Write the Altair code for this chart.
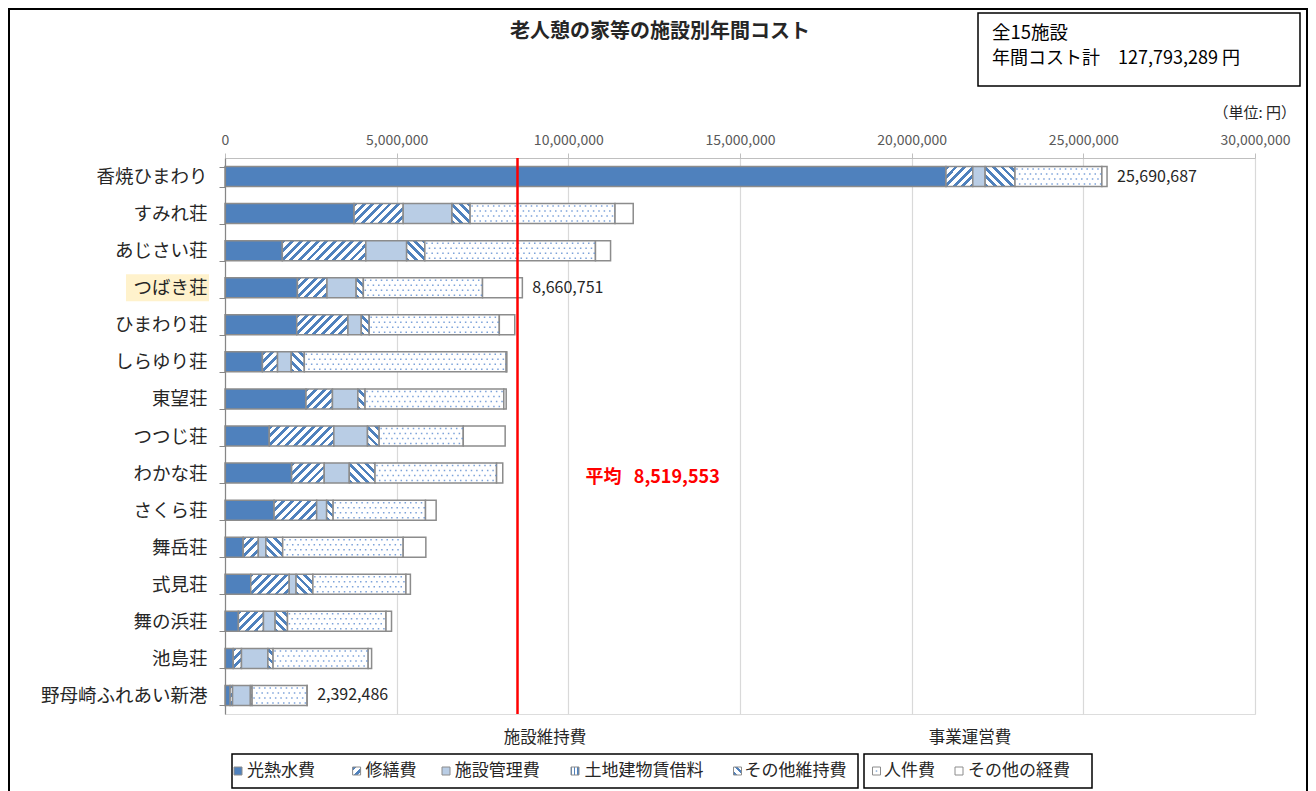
import altair as alt

# ---------------- data ----------------
categories = ["香焼ひまわり", "すみれ荘", "あじさい荘", "つばき荘", "ひまわり荘", "しらゆり荘",
              "東望荘", "つつじ荘", "わかな荘", "さくら荘", "舞岳荘", "式見荘", "舞の浜荘",
              "池島荘", "野母崎ふれあい新港"]
cost_types = ["光熱水費", "修繕費", "施設管理費", "土地建物賃借料", "その他維持費", "人件費", "その他の経費"]
group_names = ["施設維持費", "事業運営費"]

utilities = [21000000, 3760000, 1670000, 2110000, 2090000, 1090000, 2360000, 1290000,
             1940000, 1430000, 530000, 750000, 390000, 240000, 150000]
repairs = [780000, 1430000, 2430000, 860000, 1490000, 440000, 770000, 1880000,
           950000, 1240000, 440000, 1120000, 730000, 240000, 70000]
facility_mgmt = [360000, 1420000, 1190000, 850000, 390000, 400000, 740000, 980000,
                 730000, 290000, 220000, 200000, 340000, 770000, 520000]
land_rent = [0, 0, 0, 0, 0, 0, 0, 0, 0, 0, 0, 0, 0, 0, 0]
other_maint = [870000, 530000, 530000, 210000, 230000, 380000, 210000, 340000,
               750000, 190000, 490000, 490000, 360000, 150000, 50000]
personnel = [2530000, 4220000, 4970000, 3470000, 3790000, 5880000, 4040000, 2450000,
             3540000, 2690000, 3510000, 2710000, 2870000, 2770000, 1600000]
other_exp = [150687, 530000, 440000, 1160751, 450000, 20000, 70000, 1220000,
             180000, 310000, 660000, 130000, 160000, 100000, 2486]

labeled_facilities = ["香焼ひまわり", "つばき荘", "野母崎ふれあい新港"]
highlighted_facility = "つばき荘"
facility_count = 15
grand_total = 127793289
average_cost = 8519553
x_ticks = [0, 5000000, 10000000, 15000000, 20000000, 25000000, 30000000]

# ---------------- layout / style ----------------
PLOT_W, PLOT_H = 1030, 556
PAD_L, PAD_T = 217, 150
TOTAL_W, TOTAL_H = 1300, 783
X_MAX = 30000000
BAR_H = 20
BLUE = "#4F81BD"
LIGHT = "#B9CDE5"
EDGE = "#8C8C8C"
INK = "#262626"
FONT = "Noto Sans CJK JP"
NB = "\u00a0"

kinds = ["solid", "fwd", "light", "vert", "back", "dots", "plain"]
series = [utilities, repairs, facility_mgmt, land_rent, other_maint, personnel, other_exp]


def stops_from(length, period, frac, ink, paper="#FFFFFF"):
    stops = []
    pos = 0.0
    while pos < length - 1e-9:
        a = pos / length
        b = min(pos + frac * period, length) / length
        c = min(pos + period, length) / length
        stops += [{"offset": round(a, 5), "color": ink}, {"offset": round(b, 5), "color": ink},
                  {"offset": round(b, 5), "color": paper}, {"offset": round(c, 5), "color": paper}]
        pos += period
    return stops


def hatch(w, h, forward, period=8.6, frac=0.45):
    k = (w + h) * w / (w * w + h * h)
    stops = stops_from(w + h, period, frac, BLUE)
    if forward:
        return {"gradient": "linear", "x1": 0, "y1": 0, "x2": k, "y2": k * h / w, "stops": stops}
    return {"gradient": "linear", "x1": 0, "y1": 1, "x2": k, "y2": 1 - k * h / w, "stops": stops}


def vstripes(w, period=3.2, frac=0.4):
    return {"gradient": "linear", "x1": 0, "y1": 0, "x2": 1, "y2": 0,
            "stops": stops_from(w, period, frac, BLUE)}


def pattern(kind, w, h):
    if kind == "solid":
        return BLUE
    if kind == "light":
        return LIGHT
    if kind == "fwd":
        return hatch(w, h, True)
    if kind == "back":
        return hatch(w, h, False)
    if kind == "vert":
        return vstripes(w)
    return "#FFFFFF"


segments = []
totals = []
for i, cat in enumerate(categories):
    start = 0
    for j, t in enumerate(cost_types):
        v = series[j][i]
        if v <= 0:
            continue
        w = v * PLOT_W / X_MAX
        segments.append({"facility": cat, "type": t, "kind": kinds[j], "start": start,
                         "end": start + v, "pat": pattern(kinds[j], w, BAR_H)})
        start += v
    totals.append({"facility": cat, "total": start, "label": f"{start:,}"})

seg_data = alt.Data(values=segments)
label_data = alt.Data(values=[r for r in totals if r["facility"] in labeled_facilities])
one = alt.Data(values=[{"_": 0}])

x_axis = alt.Axis(orient="top", values=x_ticks, labelExpr="format(datum.value, ',.0f')",
                  title=None, labelFontSize=14, labelColor="#595959", labelFont=FONT,
                  tickColor="#BFBFBF", domainColor="#BFBFBF", tickSize=5, labelPadding=6,
                  grid=True, gridColor="#D9D9D9", gridWidth=1.2, labelFlush=False)
x_scale = alt.Scale(domain=[0, X_MAX], nice=False, zero=True)
y_axis = alt.Axis(title=None, orient="left", domainColor="#868686", tickColor="#868686",
                  tickSize=6, tickBand="extent", labelFontSize=18.5, labelColor=INK,
                  labelFont=FONT, labelPadding=12, grid=False, zindex=1, domainWidth=1.2)
y_scale = alt.Scale(domain=categories, paddingInner=0.46, paddingOuter=0.23)


def X(field):
    return alt.X(f"{field}:Q", scale=x_scale, axis=x_axis)


X_AVG = alt.X(datum=average_cost, type="quantitative", scale=x_scale, axis=x_axis)
Y = alt.Y("facility:N", sort=categories, scale=y_scale, axis=y_axis)

layers = []

# highlight behind the つばき荘 label
layers.append(
    alt.Chart(alt.Data(values=[{"facility": highlighted_facility}]))
    .mark_bar(color="#FFF2CC", size=27)
    .encode(x=alt.value(-99), x2=alt.value(-16), y=Y)
)

# stacked bars
layers.append(
    alt.Chart(seg_data)
    .mark_bar(stroke=EDGE, strokeWidth=1.5)
    .encode(x=X("start"), x2="end", y=Y, fill=alt.Fill("pat:N", scale=None))
)

# dotted pattern for 人件費
for off, dash_off in [(-7.5, 4.2), (-2.5, 1.5), (2.5, 4.2), (7.5, 1.5)]:
    layers.append(
        alt.Chart(seg_data)
        .transform_filter(alt.datum.kind == "dots")
        .mark_rule(yOffset=off, strokeDash=[1.5, 3.9], strokeDashOffset=dash_off,
                   color="#5B8BD0", strokeWidth=1.5, opacity=0.8)
        .encode(x=X("start"), x2="end", y=Y)
    )

# total labels
layers.append(
    alt.Chart(label_data)
    .mark_text(align="left", baseline="middle", dx=10, fontSize=16, color=INK, font=FONT)
    .encode(x=X("total"), y=Y, text="label:N")
)

# average line + label
layers.append(
    alt.Chart(one).mark_rule(color="#FF0000", strokeWidth=2.5).encode(x=X_AVG)
)
layers.append(
    alt.Chart(one)
    .mark_text(align="left", baseline="middle", dx=68, fontSize=18, fontWeight="bold",
               color="#FF0000", font=FONT, text=f"平均{NB}{NB}{NB}{average_cost:,}")
    .encode(x=X_AVG, y=alt.value(320))
)

# title
layers.append(
    alt.Chart(one)
    .mark_text(align="center", baseline="middle", fontSize=20, fontWeight="bold",
               color=INK, font=FONT, text="老人憩の家等の施設別年間コスト")
    .encode(x=alt.value(435), y=alt.value(-126))
)

# summary box (top right)
layers.append(
    alt.Chart(one).mark_rect(fill="#FFFFFF", stroke="#000000", strokeWidth=1.5)
    .encode(x=alt.value(753), x2=alt.value(1075), y=alt.value(-145), y2=alt.value(-72))
)
layers.append(
    alt.Chart(one)
    .mark_text(align="left", baseline="middle", fontSize=18.5, color="#000000", font=FONT,
               text=f"全{facility_count}施設")
    .encode(x=alt.value(767), y=alt.value(-125))
)
layers.append(
    alt.Chart(one)
    .mark_text(align="left", baseline="middle", fontSize=18, color="#000000", font=FONT,
               text=f"年間コスト計\u3000{grand_total:,} 円")
    .encode(x=alt.value(767), y=alt.value(-99))
)
layers.append(
    alt.Chart(one)
    .mark_text(align="right", baseline="middle", fontSize=15, color=INK, font=FONT,
               text="（単位: 円）")
    .encode(x=alt.value(1071), y=alt.value(-45))
)

# outer frame
layers.append(
    alt.Chart(one).mark_rect(fillOpacity=0, stroke="#000000", strokeWidth=2)
    .encode(x=alt.value(-216), x2=alt.value(1082), y=alt.value(-149), y2=alt.value(660))
)

# legend
LEG_Y = 613
legend_boxes = [(7, 633), (639, 867)]
legend_title_x = [320, 745]
legend_sq_x = [13, 131.6, 221, 350, 512.5, 651.5, 734]
legend_text_x = [20, 138.4, 227.8, 357.5, 517.4, 657, 741]
for (bx1, bx2), tx, name in zip(legend_boxes, legend_title_x, group_names):
    layers.append(
        alt.Chart(one).mark_rect(fill="#FFFFFF", stroke="#000000", strokeWidth=1.5)
        .encode(x=alt.value(bx1), x2=alt.value(bx2), y=alt.value(596), y2=alt.value(630))
    )
    layers.append(
        alt.Chart(one)
        .mark_text(align="center", baseline="middle", fontSize=16.5, color=INK, font=FONT,
                   text=name)
        .encode(x=alt.value(tx), y=alt.value(580))
    )
for j, t in enumerate(cost_types):
    cx = legend_sq_x[j]
    fill = pattern(kinds[j], 8, 8)
    layers.append(
        alt.Chart(one).mark_rect(fill=fill, stroke=EDGE, strokeWidth=1)
        .encode(x=alt.value(cx - 4), x2=alt.value(cx + 4),
                y=alt.value(LEG_Y - 4), y2=alt.value(LEG_Y + 4))
    )
    if kinds[j] == "dots":
        layers.append(
            alt.Chart(one).mark_point(filled=True, size=3, color=BLUE)
            .encode(x=alt.value(cx), y=alt.value(LEG_Y))
        )
    layers.append(
        alt.Chart(one)
        .mark_text(align="left", baseline="middle", fontSize=17, color=INK, font=FONT, text=t)
        .encode(x=alt.value(legend_text_x[j] + 2), y=alt.value(LEG_Y))
    )

chart = (
    alt.layer(*layers)
    .properties(width=PLOT_W, height=PLOT_H,
                padding={"left": PAD_L, "top": PAD_T, "right": TOTAL_W - PAD_L - PLOT_W,
                         "bottom": TOTAL_H - PAD_T - PLOT_H},
                autosize=alt.AutoSizeParams(type="none"))
    .configure_view(strokeWidth=0)
    .configure(font=FONT, background="#FFFFFF")
)

chart.save("out.html", embed_options={"renderer": "svg", "actions": False})
